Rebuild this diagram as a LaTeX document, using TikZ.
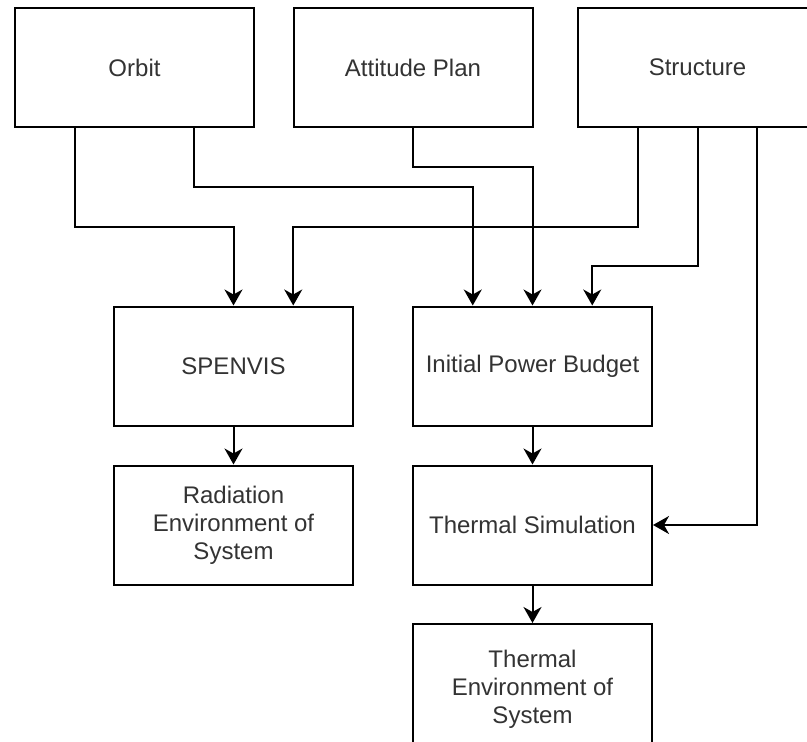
\documentclass[tikz,border=0pt]{standalone}
\usepackage{fontspec}
\setmainfont{Liberation Sans}
\usetikzlibrary{arrows.meta}
\definecolor{txt}{HTML}{333333}
\tikzset{
  blk/.style={draw=black, line width=2pt, fill=white, minimum width=239pt,
    minimum height=119pt, inner sep=0pt, align=center, text=txt,
    font=\fontsize{24}{28}\selectfont},
  flow/.style={draw=black, line width=2pt,
    -{Stealth[length=16pt, width=18pt, inset=5pt]}},
}
\begin{document}
\begin{tikzpicture}[x=1pt, y=-1pt]
\useasboundingbox (0,0) rectangle (807,742);
\clip (0,0) rectangle (807,742);

% source blocks
\node[blk] (orbit) at (134.5,67.5) {Orbit};
\node[blk] (att)   at (413,67.5)   {Attitude Plan};
\node[blk] (str)   at (697.5,67.5) {Structure};

% processing blocks
\node[blk] (spv) at (233.5,366) {SPENVIS};
\node[blk] (ipb) at (532.5,366) {Initial Power Budget};
\node[blk] (rad) at (233.5,525) {Radiation\\Environment of\\System};
\node[blk] (ts)  at (532.5,525) {Thermal Simulation};
\node[blk, minimum height=130pt] (te) at (532.5,689) {Thermal\\Environment of\\System};

% rows where the connectors turn
\coordinate (r1) at (0,167);
\coordinate (r2) at (0,187);
\coordinate (r3) at (0,227);
\coordinate (r4) at (0,266);

% exit and entry points at quarter widths
\coordinate (orbL) at ([xshift=-59.75pt]orbit.south);
\coordinate (orbR) at ([xshift=59.75pt]orbit.south);
\coordinate (strL) at ([xshift=-59.75pt]str.south);
\coordinate (strR) at ([xshift=59.75pt]str.south);
\coordinate (spvR) at ([xshift=59.75pt]spv.north);
\coordinate (ipbL) at ([xshift=-59.75pt]ipb.north);
\coordinate (ipbR) at ([xshift=59.75pt]ipb.north);

\draw[flow] (orbL) |- (spv.north |- r3) -- (spv.north);
\draw[flow] (orbR) |- (ipbL |- r2) -- (ipbL);
\draw[flow] (att.south) |- (ipb.north |- r1) -- (ipb.north);
\draw[flow] (strL) |- (spvR |- r3) -- (spvR);
\draw[flow] (str.south) |- (ipbR |- r4) -- (ipbR);
\draw[flow] (strR) |- (ts.east);

\draw[flow] (spv.south) -- (rad.north);
\draw[flow] (ipb.south) -- (ts.north);
\draw[flow] (ts.south) -- (te.north);
\end{tikzpicture}
\end{document}
